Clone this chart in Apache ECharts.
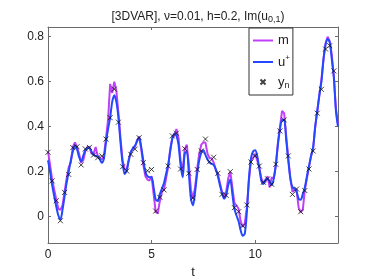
<!DOCTYPE html>
<html><head><meta charset="utf-8">
<script src="https://cdn.jsdelivr.net/npm/echarts@6/dist/echarts.min.js"></script>
<style>html,body{margin:0;padding:0;background:#fff}#c{width:374px;height:280px}</style>
</head><body><div id="c"></div>
<script>
// sampling step of curves and observation interval h
var curveStep = 0.1;
var obsStep = 0.2;
// u+ (true solution) sampled at t = 0, 0.1, ..., 14
var uPlus = [0.25,0.20,0.14,0.09,0.045,0.005,-0.012,0.03,0.09,0.15,
 0.20,0.25,0.29,0.315,0.30,0.265,0.245,0.27,0.295,0.305,
 0.305,0.29,0.275,0.27,0.268,0.255,0.24,0.26,0.33,0.39,
 0.44,0.51,0.54,0.51,0.44,0.33,0.24,0.19,0.205,0.25,
 0.285,0.305,0.315,0.335,0.353,0.31,0.25,0.20,0.18,0.175,
 0.175,0.13,0.075,0.07,0.10,0.125,0.15,0.19,0.23,0.29,
 0.345,0.37,0.36,0.32,0.23,0.175,0.28,0.29,0.19,0.08,
 0.05,0.11,0.19,0.25,0.285,0.295,0.275,0.255,0.24,0.235,
 0.23,0.21,0.18,0.14,0.105,0.08,0.095,0.14,0.165,0.10,
 0.035,0.005,-0.02,-0.06,-0.085,-0.075,0.02,0.17,0.26,0.29,
 0.295,0.27,0.215,0.16,0.145,0.165,0.17,0.155,0.14,0.17,
 0.23,0.32,0.39,0.43,0.43,0.34,0.25,0.17,0.13,0.125,
 0.11,0.08,0.075,0.10,0.13,0.18,0.225,0.27,0.31,0.40,
 0.47,0.54,0.60,0.70,0.765,0.79,0.775,0.70,0.62,0.47,
 0.40];
// m (3DVAR estimate) sampled at t = 0, 0.1, ..., 14
var mEst = [0.29,0.23,0.165,0.12,0.075,0.035,0.03,0.05,0.11,0.17,
 0.22,0.24,0.31,0.33,0.31,0.28,0.24,0.25,0.29,0.31,
 0.31,0.28,0.28,0.31,0.27,0.26,0.255,0.27,0.35,0.43,
 0.59,0.55,0.60,0.56,0.46,0.35,0.25,0.21,0.21,0.255,
 0.29,0.30,0.31,0.34,0.355,0.30,0.23,0.18,0.165,0.16,
 0.18,0.10,0.02,0.015,0.07,0.11,0.12,0.17,0.22,0.30,
 0.35,0.36,0.39,0.35,0.25,0.20,0.30,0.32,0.23,0.12,
 0.08,0.13,0.21,0.28,0.32,0.33,0.33,0.28,0.26,0.26,
 0.24,0.21,0.19,0.15,0.11,0.09,0.11,0.17,0.20,0.13,
 0.06,0.05,0.035,-0.02,-0.045,-0.03,0.04,0.16,0.25,0.26,
 0.28,0.25,0.22,0.17,0.15,0.155,0.18,0.13,0.175,0.17,
 0.23,0.33,0.40,0.47,0.46,0.36,0.26,0.17,0.11,0.12,
 0.12,0.04,0.02,0.03,0.12,0.17,0.22,0.27,0.30,0.40,
 0.47,0.54,0.61,0.70,0.77,0.80,0.78,0.72,0.62,0.48,
 0.41];
// observations y_n at t = 0, 0.2, ..., 13.8
var yObs = [0.286,0.159,0.071,-0.018,0.108,0.188,0.307,0.311,0.23,0.301,
 0.308,0.274,0.262,0.27,0.345,0.44,0.567,0.42,0.222,0.203,
 0.277,0.30,0.351,0.24,0.204,0.21,0.025,0.086,0.119,0.225,
 0.359,0.371,0.212,0.302,0.193,0.084,0.21,0.292,0.345,0.244,
 0.264,0.193,0.099,0.095,0.20,0.04,0.022,-0.041,0.052,0.243,
 0.27,0.225,0.153,0.168,0.144,0.233,0.381,0.43,0.27,0.099,
 0.123,0.022,0.116,0.212,0.292,0.46,0.566,0.745,0.76,0.648];
var xTicks = [0,5,10];
var yTicks = [0,0.2,0.4,0.6,0.8];

function pairs(step, vals){ return vals.map(function(v,i){ return [+(i*step).toFixed(2), v]; }); }

var FONT = 'Liberation Sans';
var axisCol = '#6b6b6b';
var chart = echarts.init(document.getElementById('c'), null, {renderer:'canvas'});
var xBase = {type:'value', min:0, max:14, splitLine:{show:false},
  axisLine:{show:true, onZero:false, lineStyle:{color:axisCol, width:1}},
  axisTick:{show:true, inside:true, length:3, customValues:xTicks, lineStyle:{color:axisCol}}};
var yBase = {type:'value', min:-0.117, max:0.843, splitLine:{show:false},
  axisLine:{show:true, onZero:false, lineStyle:{color:axisCol, width:1}},
  axisTick:{show:true, inside:true, length:3, customValues:yTicks, lineStyle:{color:axisCol}}};
chart.setOption({
  animation:false,
  backgroundColor:'#fff',
  title:{text:'[3DVAR], ν=0.01, h=0.2, Im(u{s|0,1})', left:193, textAlign:'center', top:4,
    textStyle:{fontFamily:FONT, fontSize:12, fontWeight:'normal', color:'#222',
      rich:{s:{fontFamily:FONT, fontSize:9, verticalAlign:'bottom', padding:[6,0,0,0], color:'#222'}}}},
  grid:{left:48, right:36, top:27, bottom:37, containLabel:false, outerBoundsMode:'none'},
  xAxis:[
    Object.assign({}, xBase, {position:'bottom', name:'t', nameLocation:'middle', nameGap:19,
      nameTextStyle:{fontFamily:FONT, fontSize:13, color:'#222'},
      axisLabel:{show:true, customValues:xTicks, margin:6, fontFamily:FONT, fontSize:12, color:'#222'}}),
    Object.assign({}, xBase, {position:'top', axisLabel:{show:false}})
  ],
  yAxis:[
    Object.assign({}, yBase, {position:'left',
      axisLabel:{show:true, customValues:yTicks, margin:4, fontFamily:FONT, fontSize:12, color:'#222',
        formatter:function(v){ return v===0 ? '0' : String(v); }}}),
    Object.assign({}, yBase, {position:'right', axisLabel:{show:false}})
  ],
  legend:{orient:'vertical', left:249, top:28, itemWidth:20, itemHeight:5, itemGap:7,
    padding:[6,3,5,3], borderColor:'#333', borderWidth:1, backgroundColor:'#fff',
    textStyle:{fontFamily:FONT, fontSize:13, color:'#222',
      rich:{b:{fontFamily:FONT, fontSize:13, color:'#222', lineHeight:15},
            sup:{fontFamily:FONT, fontSize:8, color:'#222', verticalAlign:'top', padding:[0,0,8,0]},
            sub:{fontFamily:FONT, fontSize:9, color:'#222', verticalAlign:'bottom', padding:[7,0,0,0]}}},
    formatter:function(n){ if(n==='u+') return '{b|u}{sup|+}'; if(n==='yn') return '{b|y}{sub|n}'; return '{b|m}'; },
    data:[{name:'m', itemStyle:{opacity:0}}, {name:'u+', itemStyle:{opacity:0}}, 'yn']},
  series:[
    {name:'m', type:'line', data:pairs(curveStep, mEst), showSymbol:false, symbol:'none',
      lineStyle:{color:'#c040f8', width:2}, itemStyle:{color:'#c040f8'}, z:2},
    {name:'u+', type:'line', data:pairs(curveStep, uPlus), showSymbol:false, symbol:'none', smooth:0.3,
      lineStyle:{color:'#2448ff', width:2}, itemStyle:{color:'#2448ff'}, z:3},
    {name:'yn', type:'scatter', data:pairs(obsStep, yObs), symbol:'path://M0,0L10,10M10,0L0,10', symbolSize:5,
      itemStyle:{color:'rgba(0,0,0,0)', borderColor:'#111', borderWidth:1}, z:4}
  ]
});
</script></body></html>
